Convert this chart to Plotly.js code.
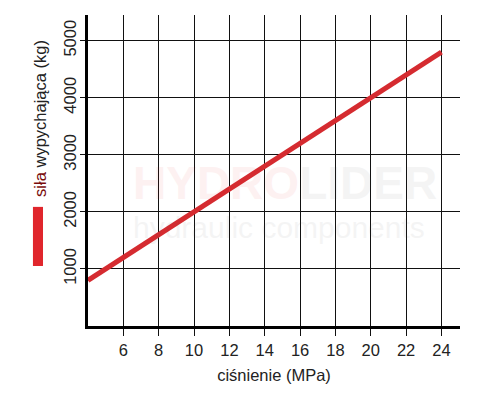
<!DOCTYPE html>
<html>
<head>
<meta charset="utf-8">
<script src="https://cdn.plot.ly/plotly-3.0.1.min.js"></script>
<style>html,body{margin:0;padding:0;background:#fff;}#chart{width:500px;height:397px;}</style>
</head>
<body>
<div id="chart"></div>
<script>
const pressure = [4, 24];
const force = [800, 4800];
const xTicks = [6, 8, 10, 12, 14, 16, 18, 20, 22, 24];
const yTicks = [1000, 2000, 3000, 4000, 5000];
const xTitle = 'ciśnienie (MPa)';
const yTitle = '<span style="color:#7a0c0c">siła</span> wypychająca (kg)';
const watermark = '<span style="font-size:46px;font-weight:bold"><span style="color:#e02020">HYDRO</span><span style="color:#555555">LIDER</span></span><br>hydraulic components';

const trace = {
  x: pressure, y: force, type: 'scatter', mode: 'lines',
  line: {color: '#d52b30', width: 5}, hoverinfo: 'skip', showlegend: false
};

const layout = {
  width: 500, height: 397,
  margin: {l: 88, r: 40, t: 15, b: 71},
  paper_bgcolor: '#ffffff', plot_bgcolor: 'rgba(0,0,0,0)',
  font: {family: 'Liberation Sans, Arial, sans-serif', color: '#222', size: 16},
  showlegend: false,
  xaxis: {
    range: [4, 25.05], tickvals: xTicks, ticktext: xTicks.map(String),
    showgrid: true, gridcolor: '#111', gridwidth: 1,
    showline: true, linecolor: '#000', linewidth: 3,
    ticks: 'outside', ticklen: 7, tickcolor: '#111', tickwidth: 1,
    tickfont: {size: 16.5, color: '#222'}, zeroline: false,
    title: {text: xTitle, font: {size: 16.5, color: '#222'}, standoff: 12}
  },
  yaxis: {
    range: [0, 5450], tickvals: yTicks, ticktext: yTicks.map(String),
    tickangle: -90, ticklabelstandoff: -3,
    showgrid: true, gridcolor: '#111', gridwidth: 1,
    showline: true, linecolor: '#000', linewidth: 3,
    ticks: 'outside', ticklen: 5, tickcolor: '#111', tickwidth: 1,
    tickfont: {size: 16.5, color: '#222'}, zeroline: false
  },
  shapes: [
    {type: 'rect', xref: 'paper', yref: 'paper', layer: 'above',
     x0: -0.148, x1: -0.121, y0: 0.193, y1: 0.383,
     fillcolor: '#e0262c', line: {width: 0}}
  ],
  annotations: [
    {xref: 'paper', yref: 'paper', x: -0.129, y: 0.666, xanchor: 'center', yanchor: 'middle',
     text: yTitle, textangle: -90, showarrow: false,
     font: {size: 16.5, color: '#222'}},
    {xref: 'paper', yref: 'paper', x: 0.115, y: 0.405, xanchor: 'left', yanchor: 'middle',
     align: 'left', text: watermark, showarrow: false, opacity: 0.06,
     font: {size: 30, color: '#555555', family: 'Liberation Sans, Arial, sans-serif'}}
  ]
};

Plotly.newPlot('chart', [trace], layout, {displayModeBar: false, staticPlot: true});
</script>
</body>
</html>
